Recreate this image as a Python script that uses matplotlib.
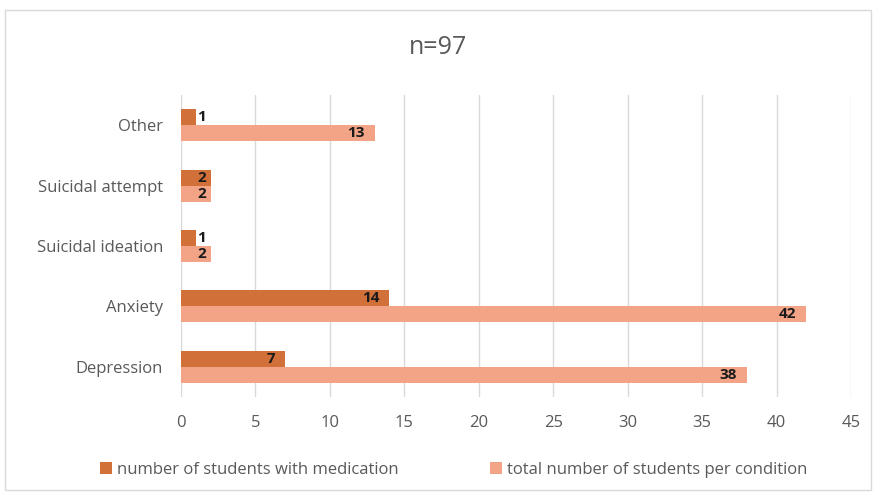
import matplotlib
matplotlib.use("Agg")
import matplotlib.pyplot as plt
import numpy as np
from matplotlib.patches import Rectangle

categories = ["Depression", "Anxiety", "Suicidal ideation", "Suicidal attempt", "Other"]
medication = [7, 14, 1, 2, 1]
total = [38, 42, 2, 2, 13]
series_names = ["number of students with medication", "total number of students per condition"]
title = "n=97"

c_med = "#D2703A"
c_tot = "#F3A386"
gray = "#595959"

plt.rcParams['font.family'] = ['Open Sans', 'DejaVu Sans']

fig = plt.figure(figsize=(8.76, 4.95), dpi=100)
fig.patches.append(Rectangle((5/876, 1-490/495), 866/876, 480/495, transform=fig.transFigure,
                             fill=False, edgecolor="#D9D9D9", linewidth=1))
ax = fig.add_axes([181/876, 1-397/495, 670/876, 302/495])

y = np.arange(len(categories))
h = 0.265
ax.barh(y + h/2, medication, height=h, color=c_med, label=series_names[0], zorder=3)
ax.barh(y - h/2, total, height=h, color=c_tot, label=series_names[1], zorder=3)

for yy, vals in ((y + h/2, medication), (y - h/2, total)):
    for yi, v in zip(yy, vals):
        if v >= 5:
            ax.annotate(str(v), (v, yi), xytext=(-7, 0), textcoords="offset points",
                        ha="right", va="center", fontsize=11, fontweight="bold", color="#1a1a1a", zorder=4)
        else:
            ax.annotate(str(v), (0, yi), xytext=(15, 0), textcoords="offset points",
                        ha="center", va="center", fontsize=11, fontweight="bold", color="#1a1a1a", zorder=4)

ax.set_xlim(0, 45)
ax.set_ylim(-0.5, len(categories) - 0.5)
ax.set_xticks(np.arange(0, 46, 5))
ax.set_yticks(y)
ax.set_yticklabels(categories)
ax.grid(axis="x", color="#D9D9D9", linewidth=1, zorder=0)
for s in ax.spines.values():
    s.set_visible(False)
ax.tick_params(axis="both", length=0, labelsize=12, labelcolor=gray)
ax.tick_params(axis="y", pad=13)
ax.tick_params(axis="x", pad=13)

fig.text(0.5, 1-48/495, title, ha="center", va="center", fontsize=18, color=gray)

fig.legend(loc="center", bbox_to_anchor=(0.518, 1-470/495), ncol=2, frameon=False,
           fontsize=12, labelcolor=gray, handlelength=0.7, handleheight=0.7,
           handletextpad=0.3, columnspacing=5.5)

fig.savefig("out.png", dpi=100)
